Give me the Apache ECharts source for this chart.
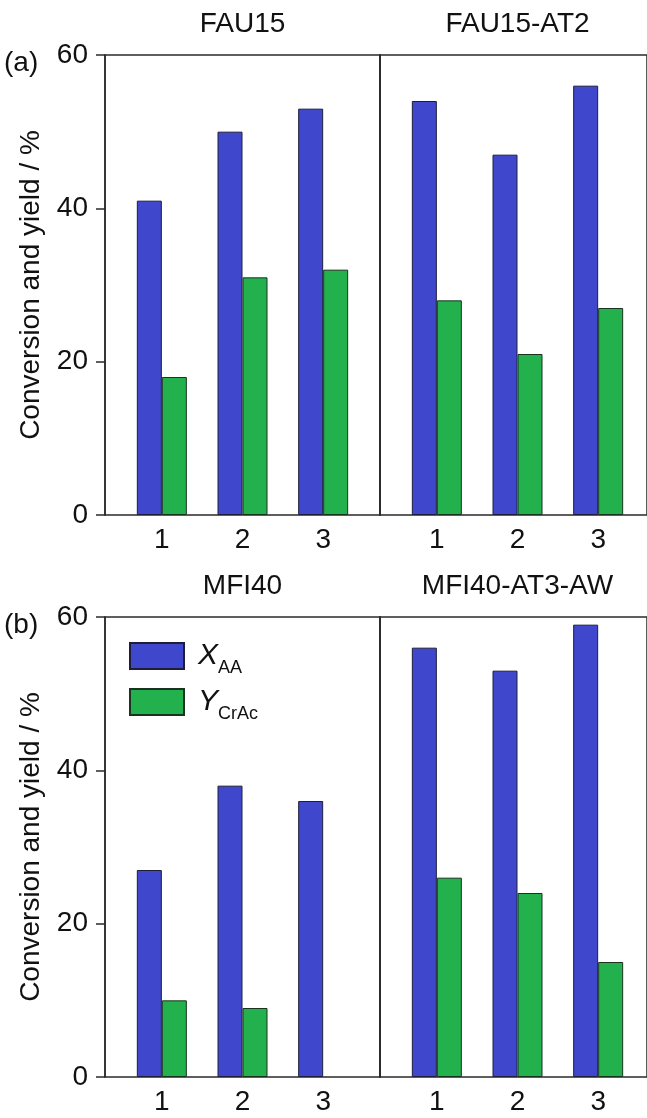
<!DOCTYPE html>
<html><head><meta charset="utf-8">
<script src="https://cdn.jsdelivr.net/npm/echarts@6/dist/echarts.min.js"></script>
<style>html,body{margin:0;padding:0;background:#fff}#c{width:647px;height:1118px}</style>
</head><body><div id="c"></div>
<script>
// ---- data ----
const categories = ['1', '2', '3'];
const panelTitles = ['FAU15', 'FAU15-AT2', 'MFI40', 'MFI40-AT3-AW'];
const panelLetters = ['(a)', '(b)'];
const yMin = 0, yMax = 60, yStep = 20;
const xAA   = [[41, 50, 53], [54, 47, 56], [27, 38, 36], [56, 53, 59]];
const yCrAc = [[18, 31, 32], [28, 21, 27], [10, 9, null], [26, 24, 15]];
const seriesNames = ['XAA', 'YCrAc'];
const yAxisName = 'Conversion and yield / %';

// ---- layout ----
const FONT = 'Liberation Sans, Arial, sans-serif';
const panelTop = [55, 617];
const panelH = 460;
const subLeft = [105, 380];
const subW = 275;
const inset = 16.5;
const lineColor = '#2a2a2a';
const blue = '#3f48cc', green = '#22b14c';

const grid = [], xAxis = [], yAxis = [], series = [], graphic = [];
for (let i = 0; i < 4; i++) {
  const p = Math.floor(i / 2), s = i % 2;
  grid.push({left: subLeft[s], top: panelTop[p], width: subW, height: panelH,
    show: true, borderColor: lineColor, borderWidth: 1.5, backgroundColor: 'transparent'});
  xAxis.push({gridIndex: i, type: 'value', min: 0, max: 1, show: false});
  yAxis.push({gridIndex: i, type: 'value', min: yMin, max: yMax, interval: yStep,
    splitLine: {show: false},
    axisLine: {show: true, lineStyle: {color: lineColor, width: 1.5}},
    axisTick: {show: s === 0, inside: false, length: 9, lineStyle: {color: lineColor, width: 1.5}},
    axisLabel: {show: s === 0, fontSize: 28, color: '#111', fontFamily: FONT, margin: 17},
    name: s === 0 ? yAxisName : '', nameLocation: 'middle', nameGap: 60,
    nameTextStyle: {fontSize: 28, color: '#111', fontFamily: FONT}
  });
  graphic.push({type: 'text', x: subLeft[s] + subW / 2, y: panelTop[p] - 31,
    style: {text: panelTitles[i], font: '28px ' + FONT, fill: '#111', textAlign: 'center', textVerticalAlign: 'middle'}});
}
for (let i = 0; i < 4; i++) {
  const p = Math.floor(i / 2), s = i % 2;
  const g = 4 + i;
  grid.push({left: subLeft[s] + inset, top: panelTop[p], width: subW - 2 * inset, height: panelH});
  xAxis.push({gridIndex: g, type: 'category', data: categories, boundaryGap: true,
    axisLine: {show: false}, axisTick: {show: false},
    axisLabel: {fontSize: 28, color: '#111', fontFamily: FONT, margin: 11}});
  yAxis.push({gridIndex: g, type: 'value', min: yMin, max: yMax, show: false});
  series.push({type: 'bar', name: seriesNames[0], xAxisIndex: g, yAxisIndex: g, data: xAA[i],
    barWidth: 25, barGap: '0%', itemStyle: {color: blue, borderColor: '#1e1e3a', borderWidth: 1}});
  series.push({type: 'bar', name: seriesNames[1], xAxisIndex: g, yAxisIndex: g, data: yCrAc[i],
    barWidth: 25, barGap: '0%', itemStyle: {color: green, borderColor: '#1a3320', borderWidth: 1}});
}
panelLetters.forEach((t, p) => {
  graphic.push({type: 'text', x: 4, y: panelTop[p] + 8,
    style: {text: t, font: '28px ' + FONT, fill: '#111', textAlign: 'left', textVerticalAlign: 'middle'}});
});

const legendLabels = {XAA: '{i|X}{s|AA}', YCrAc: '{i|Y}{s|CrAc}'};
const chart = echarts.init(document.getElementById('c'), null, {renderer: 'canvas'});
chart.setOption({
  animation: false,
  backgroundColor: '#fff',
  grid, xAxis, yAxis, series, graphic,
  legend: {data: seriesNames, orient: 'vertical', left: 124, top: 636,
    itemWidth: 54, itemHeight: 26, itemGap: 10, icon: 'rect',
    formatter: n => legendLabels[n],
    textStyle: {fontFamily: FONT, color: '#111', padding: [0, 0, 0, 9],
      rich: {i: {fontSize: 30, fontStyle: 'italic', fontFamily: FONT, color: '#111', verticalAlign: 'bottom'},
             s: {fontSize: 18, fontFamily: FONT, color: '#111', verticalAlign: 'bottom', padding: [0, 0, -6, 0]}}}
  }
});
</script>
</body></html>
